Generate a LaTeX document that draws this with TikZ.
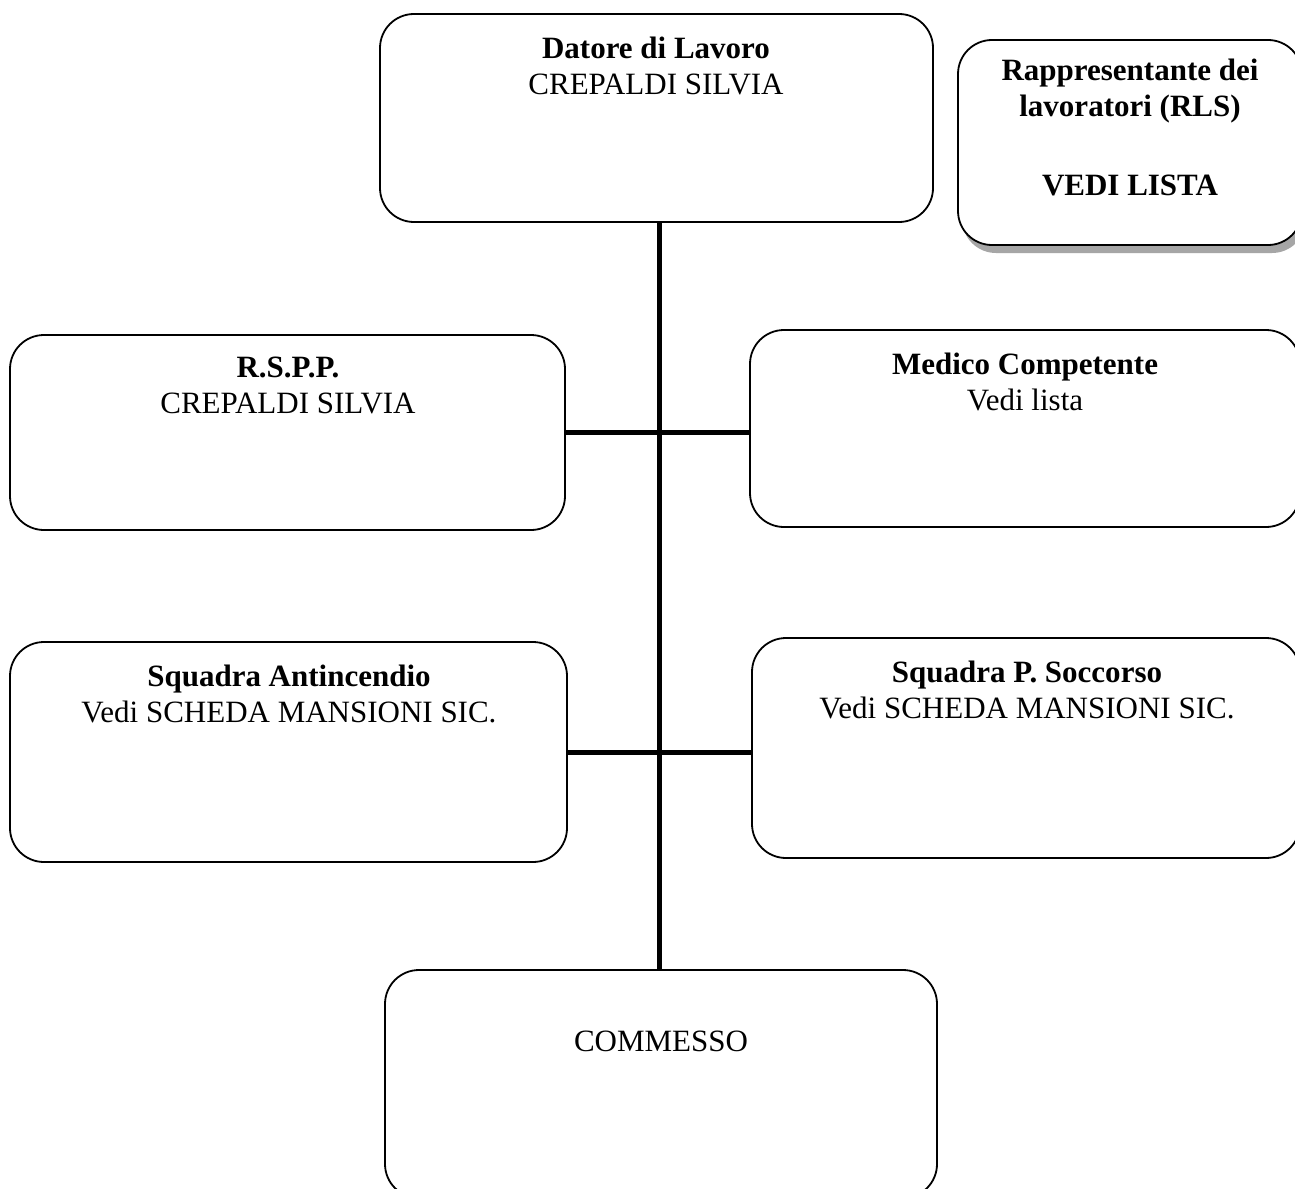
\documentclass[tikz,border=0pt]{standalone}
\usepackage{fontspec}
\setmainfont{Liberation Serif}
\usetikzlibrary{shadows}
\begin{document}
\begin{tikzpicture}[x=1pt,y=-1pt,
  box/.style={draw=black, line width=1.8pt, rounded corners=34pt, fill=white, inner sep=0pt},
  txt/.style={align=center, font=\fontsize{31}{36}\selectfont, inner sep=0pt},
  conn/.style={line width=5pt}]
\useasboundingbox (0,0) rectangle (1295,1188);
\clip (0,0) rectangle (1295,1188);
\fill[white] (0,0) rectangle (1295,1188);
% boxes
\node[box, minimum width=553pt, minimum height=208pt] (datore) at (656.5,118) {};
\node[box, minimum width=344pt, minimum height=205pt,
  drop shadow={shadow xshift=4pt, shadow yshift=-8pt, fill=gray!70, opacity=1}] (rls) at (1130,142.5) {};
\node[box, minimum width=555pt, minimum height=195pt] (rspp) at (287.5,432.5) {};
\node[box, minimum width=550pt, minimum height=197pt] (medico) at (1025,428.5) {};
\node[box, minimum width=557pt, minimum height=220pt] (sqa) at (288.5,752) {};
\node[box, minimum width=548pt, minimum height=220pt] (sqp) at (1026,748) {};
\node[box, minimum width=552pt, minimum height=228pt] (commesso) at (661,1084) {};
% texts
\node[txt] (tdatore) at (656,66) {\textbf{Datore di Lavoro}\\CREPALDI SILVIA};
\node[txt] (trls) at (1130,91) {\textbf{Rappresentante dei}\\\textbf{lavoratori (RLS)}};
\node[txt] (trls2) at (1130,185) {\textbf{VEDI LISTA}};
\node[txt] (trspp) at (288,385) {\textbf{R.S.P.P.}\\CREPALDI SILVIA};
\node[txt] (tmedico) at (1025,382) {\textbf{Medico Competente}\\Vedi lista};
\node[txt] (tsqa) at (289,694) {\textbf{Squadra Antincendio}\\Vedi SCHEDA MANSIONI SIC.};
\node[txt] (tsqp) at (1027,690) {\textbf{Squadra P. Soccorso}\\Vedi SCHEDA MANSIONI SIC.};
\node[txt] (tcommesso) at (661,1041) {COMMESSO};
% connectors
\coordinate (spine) at (659,0);
\draw[conn] (datore.south -| spine) -- (commesso.north -| spine);
\draw[conn] (rspp.east) -- (rspp.east -| medico.west);
\draw[conn] (sqa.east) -- (sqa.east -| sqp.west);
\end{tikzpicture}
\end{document}
